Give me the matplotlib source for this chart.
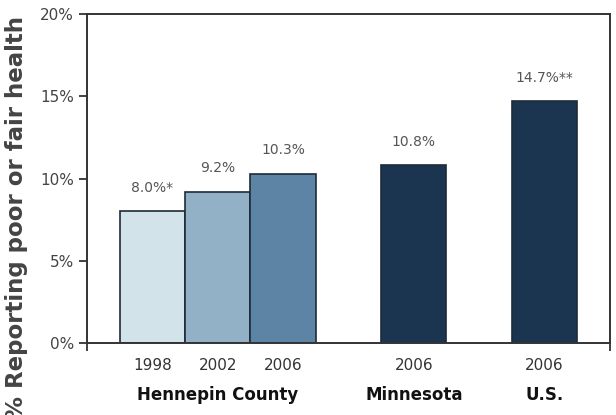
import matplotlib.pyplot as plt

# data
years = ["1998", "2002", "2006", "2006", "2006"]
values = [8.0, 9.2, 10.3, 10.8, 14.7]
value_labels = ["8.0%*", "9.2%", "10.3%", "10.8%", "14.7%**"]
positions = [0, 1, 2, 4, 6]
groups = ["Hennepin County", "Minnesota", "U.S."]
group_centers = [1, 4, 6]
colors = ["#d3e3ea", "#93b1c6", "#5d84a5", "#1b3551", "#1b3551"]

fig = plt.figure(figsize=(6.16, 4.15), dpi=100)
ax = fig.add_axes([0.1412, 0.1735, 0.8488, 0.7925])

ax.bar(positions, values, width=1.0, color=colors, edgecolor="#1e2b38", linewidth=1.2, zorder=2)

for x, v, lab in zip(positions, values, value_labels):
    ax.text(x, v + 1.0, lab, ha="center", va="bottom", fontsize=10, color="#555555")

ax.set_xlim(-1, 7)
ax.set_ylim(0, 20)
ax.set_yticks([0, 5, 10, 15, 20])
ax.set_yticklabels(["0%", "5%", "10%", "15%", "20%"], fontsize=11, color="#444444")
# short marks below the axis at both ends
ax.set_xticks([-1, 7])
ax.set_xticklabels(["", ""])
ax.tick_params(axis="both", direction="out", length=6, width=1.3, color="#333333")

for s in ax.spines.values():
    s.set_color("#333333")
    s.set_linewidth(1.4)

for x, y in zip(positions, years):
    ax.text(x, -0.9, y, ha="center", va="top", fontsize=11, color="#333333")
for x, g in zip(group_centers, groups):
    ax.text(x, -2.6, g, ha="center", va="top", fontsize=12, fontweight="bold", color="#111111")

fig.text(0.026, 0.475, "% Reporting poor or fair health", rotation=90, ha="center", va="center",
         fontsize=16.5, fontweight="bold", color="#444444")

plt.savefig("out.png", dpi=100)
